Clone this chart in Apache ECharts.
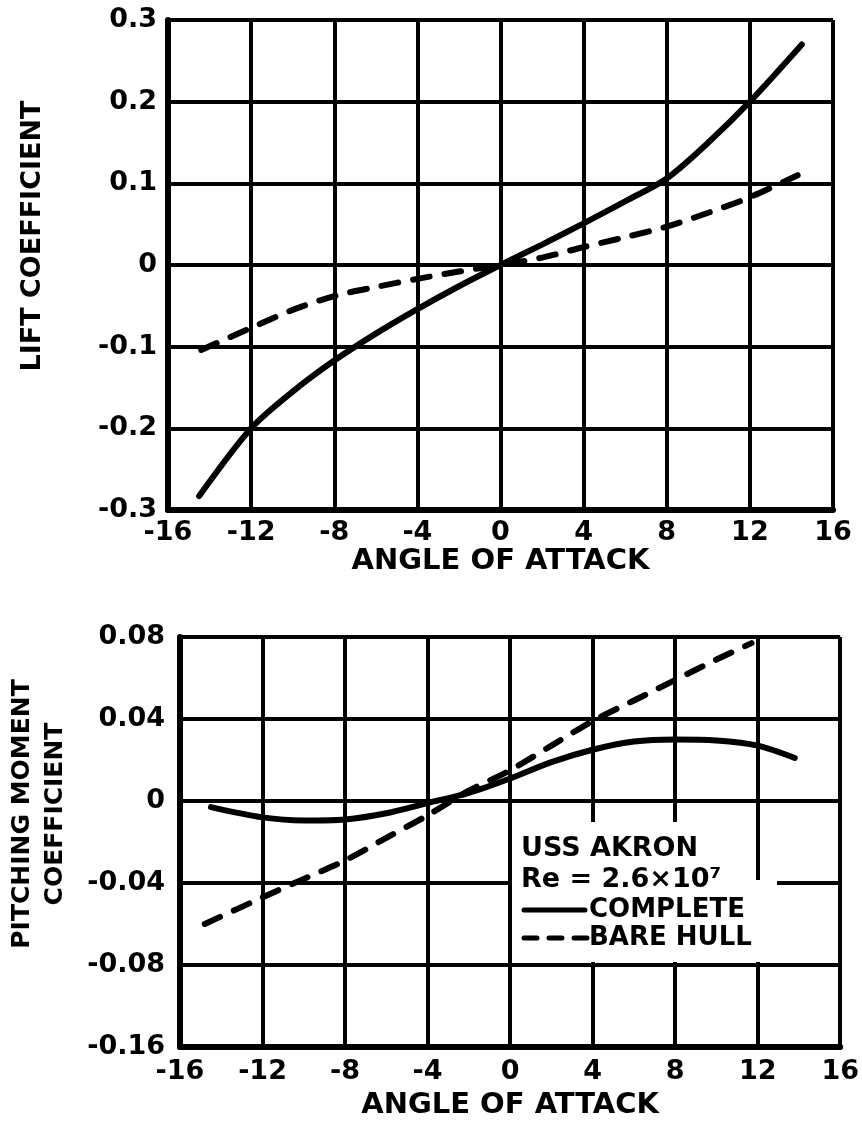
<!DOCTYPE html>
<html>
<head>
<meta charset="utf-8">
<script src="https://cdn.jsdelivr.net/npm/echarts@6/dist/echarts.min.js"></script>
<style>
  html, body { margin: 0; padding: 0; background: #fff; }
  #main { width: 862px; height: 1124px; }
</style>
</head>
<body>
<div id="main"></div>
<script>
// tick labels
const angleTicks = ['-16', '-12', '-8', '-4', '0', '4', '8', '12', '16']
const liftTicks = ['-0.3', '-0.2', '-0.1', '0', '0.1', '0.2', '0.3']
// the original plot labels its bottom line -0.16 (no -0.12 line is drawn)
const momentTicks = ['-0.16', '-0.08', '-0.04', '0', '0.04', '0.08']

// lift coefficient vs angle of attack
const liftAngleComplete = [-14.5, -12, -10, -8, -6, -4, -2, 0, 2, 4, 6, 8, 10, 12, 14.5]
const liftComplete = [-0.283, -0.2, -0.155, -0.117, -0.084, -0.054, -0.026, 0, 0.025, 0.051, 0.078, 0.106, 0.15, 0.2, 0.27]
const liftAngleBare = [-14.4, -12, -10, -8, -6, -4, -2, 0, 2, 4, 6, 8, 10, 12, 14.3]
const liftBare = [-0.104, -0.077, -0.055, -0.038, -0.027, -0.017, -0.008, 0, 0.009, 0.022, 0.034, 0.047, 0.064, 0.083, 0.11]

// pitching moment coefficient vs angle of attack
const momAngleComplete = [-14.5, -12, -10, -8, -6, -4, -2, 0, 2, 4, 6, 8, 10, 12, 13.8]
const momComplete = [-0.003, -0.008, -0.0095, -0.009, -0.006, -0.001, 0.004, 0.011, 0.019, 0.025, 0.029, 0.030, 0.0295, 0.027, 0.021]
const momAngleBare = [-14.8, -12, -10, -8, -6, -4, -2, 0, 2, 4, 6, 8, 10, 11.7]
const momBare = [-0.060, -0.047, -0.038, -0.029, -0.018, -0.007, 0.005, 0.015, 0.027, 0.039, 0.049, 0.059, 0.069, 0.077]

const pairs = (xs, ys) => xs.map((x, i) => [x, ys[i]])
const font = 'DejaVu Sans'
const ink = '#000'

function xAxisOf(gridIndex, labelMargin, nameGap) {
  return {
    type: 'value',
    gridIndex: gridIndex,
    min: -16,
    max: 16,
    interval: 4,
    name: 'ANGLE OF ATTACK',
    nameLocation: 'middle',
    nameGap: nameGap,
    nameTextStyle: { color: ink, fontFamily: font, fontWeight: 'bold', fontSize: 29 },
    axisLine: { show: true, onZero: false, lineStyle: { color: ink, width: 6 } },
    axisTick: { show: false },
    axisLabel: {
      color: ink, fontFamily: font, fontWeight: 'bold', fontSize: 27, margin: labelMargin,
      formatter: v => angleTicks[Math.round((v + 16) / 4)]
    },
    splitLine: { show: true, lineStyle: { color: ink, width: 4 } }
  }
}

function yAxisOf(gridIndex, min, max, step, ticks, labelMargin) {
  return {
    type: 'value',
    gridIndex: gridIndex,
    min: min,
    max: max,
    interval: step,
    axisLine: { show: true, onZero: false, lineStyle: { color: ink, width: 6 } },
    axisTick: { show: false },
    axisLabel: {
      color: ink, fontFamily: font, fontWeight: 'bold', fontSize: 27, margin: labelMargin,
      formatter: v => ticks[Math.round((v - min) / step)]
    },
    splitLine: { show: true, lineStyle: { color: ink, width: 4 } }
  }
}

function curve(name, data, xi, dashed) {
  return {
    name: name,
    type: 'line',
    xAxisIndex: xi,
    yAxisIndex: xi,
    data: data,
    symbol: 'none',
    smooth: 0.3,
    z: 5,
    lineStyle: {
      color: ink,
      width: 6,
      cap: 'round',
      type: dashed ? [17, 15] : 'solid'
    }
  }
}

const myChart = echarts.init(document.getElementById('main'))
const option = {
  backgroundColor: '#fff',
  animation: false,
  grid: [
    { left: 168, right: 29, top: 20, height: 490 },
    { left: 180, right: 19, top: 637, height: 410 }
  ],
  xAxis: [xAxisOf(0, 9, 36), xAxisOf(1, 11, 44)],
  yAxis: [
    yAxisOf(0, -0.3, 0.3, 0.1, liftTicks, 11),
    yAxisOf(1, -0.12, 0.08, 0.04, momentTicks, 15)
  ],
  series: [
    curve('COMPLETE', pairs(liftAngleComplete, liftComplete), 0, false),
    curve('BARE HULL', pairs(liftAngleBare, liftBare), 0, true),
    curve('COMPLETE', pairs(momAngleComplete, momComplete), 1, false),
    curve('BARE HULL', pairs(momAngleBare, momBare), 1, true)
  ],
  graphic: {
    elements: [
      // y axis titles
      {
        type: 'text', x: 33, y: 236, rotation: Math.PI / 2,
        style: {
          text: 'LIFT COEFFICIENT', fill: ink,
          font: 'bold 27px "DejaVu Sans"', textAlign: 'center', textVerticalAlign: 'middle'
        }
      },
      {
        type: 'text', x: 39, y: 814, rotation: Math.PI / 2,
        style: {
          text: 'PITCHING MOMENT\nCOEFFICIENT', fill: ink, lineHeight: 33,
          font: 'bold 25px "DejaVu Sans"', textAlign: 'center', textVerticalAlign: 'middle'
        }
      },
      // key box, whited out over the grid
      { type: 'rect', z: 50, shape: { x: 512, y: 822, width: 237, height: 60 }, style: { fill: '#fff' } },
      { type: 'rect', z: 50, shape: { x: 512, y: 880, width: 265, height: 82 }, style: { fill: '#fff' } },
      {
        type: 'text', z: 51, x: 521, y: 849,
        style: { text: 'USS AKRON', fill: ink, font: 'bold 27px "DejaVu Sans"', textVerticalAlign: 'middle' }
      },
      {
        type: 'text', z: 51, x: 521, y: 880,
        style: { text: 'Re = 2.6×10⁷', fill: ink, font: 'bold 27px "DejaVu Sans"', textVerticalAlign: 'middle' }
      },
      {
        type: 'line', z: 51,
        shape: { x1: 524, y1: 910, x2: 585, y2: 910 },
        style: { stroke: ink, lineWidth: 5, lineCap: 'round' }
      },
      {
        type: 'text', z: 51, x: 589, y: 910,
        style: { text: 'COMPLETE', fill: ink, font: 'bold 26px "DejaVu Sans"', textVerticalAlign: 'middle' }
      },
      {
        type: 'line', z: 51,
        shape: { x1: 524, y1: 938, x2: 587, y2: 938 },
        style: { stroke: ink, lineWidth: 5, lineCap: 'round', lineDash: [13, 12] }
      },
      {
        type: 'text', z: 51, x: 589, y: 938,
        style: { text: 'BARE HULL', fill: ink, font: 'bold 26px "DejaVu Sans"', textVerticalAlign: 'middle' }
      }
    ]
  }
}
myChart.setOption(option)
</script>
</body>
</html>
